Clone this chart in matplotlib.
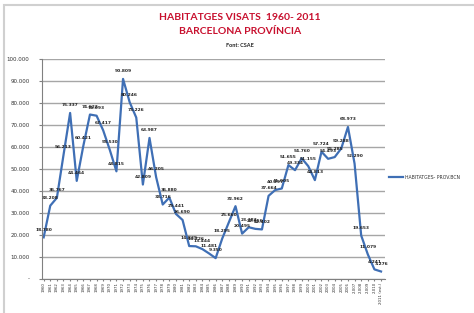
'''Habitatges visats Barcelona provincia 1960-2011'''
import matplotlib
matplotlib.use("Agg")
import matplotlib.pyplot as plt
from matplotlib import font_manager
from matplotlib.patches import Rectangle
from matplotlib.ticker import FuncFormatter

# Years and visats (houses approved) per year
years = list(range(1960, 2012))
tick_labels = [str(y) for y in range(1960, 2007)] + ["2.007", "2.008", "2.009", "2.010", "2011 (est.)"]
visats = [18780, 33208, 36767, 56213, 75337, 44464, 60421, 74622, 74093, 67417,
          58530, 48815, 90809, 80246, 73226, 42809, 63987, 46205, 33716, 36880,
          29441, 26690, 14839, 14726, 13444, 11481, 9350, 18295, 25660, 32962,
          20495, 23383, 22656, 22402, 37664, 40297, 41005, 51655, 49334, 54760,
          51155, 44813, 57724, 54493, 55285, 59288, 68973, 52290, 19653, 11079,
          4241, 3276]

TITLE_RED = "#C8102E"
LINE_BLUE = "#3F6FB5"

# narrow font for the legend if we have one
names = {f.name for f in font_manager.fontManager.ttflist}
if "Liberation Sans Narrow" in names:
    legend_font = {"family": "Liberation Sans Narrow", "size": 4.2}
else:
    legend_font = {"family": "DejaVu Sans", "size": 3.3}


def thousands(v, pos=None):
    if v == 0:
        return "-"
    return f"{int(v):,}".replace(",", ".")


fig = plt.figure(figsize=(4.74, 3.13), dpi=100)

# Outer chart frame
fig.patches.append(Rectangle((4 / 474, -0.1), 1.2, 1 - 5 / 313 + 0.1, transform=fig.transFigure,
                             fill=False, edgecolor="#D0D0D0", linewidth=1.5))

ax = fig.add_axes([42 / 474, 34.3 / 313, 343 / 474, 220 / 313])
x = list(range(len(years)))
ax.plot(x, visats, color=LINE_BLUE, linewidth=1.6, label="HABITATGES- PROV.BCN")

# Data labels above every point
for xi, v in zip(x, visats):
    ax.annotate(f"{v:,}".replace(",", "."), (xi, v), xytext=(0, 5.5), textcoords="offset points",
                ha="center", va="center", fontsize=3.2, fontweight="bold", color="#222222")

ax.set_ylim(0, 100000)
ax.set_yticks(range(0, 100001, 10000))
ax.yaxis.set_major_formatter(FuncFormatter(thousands))
ax.set_xlim(-0.25, 51.6)
ax.set_xticks(x)
ax.set_xticklabels(tick_labels, rotation=90, fontsize=2.8)
ax.tick_params(axis="y", labelsize=4, length=2, color="#808080", pad=7, labelcolor="#333333")
ax.tick_params(axis="x", length=1.5, color="#808080", pad=1, labelcolor="#333333")
ax.grid(axis="y", color="#A6A6A6", linewidth=1.0)
ax.set_axisbelow(True)
for side in ["top", "right"]:
    ax.spines[side].set_visible(False)
ax.spines["left"].set_color("#808080")
ax.spines["bottom"].set_color("#808080")

ax.legend(loc="center left", bbox_to_anchor=(1.0, 0.46), frameon=False, prop=legend_font,
          handlelength=3.0, handletextpad=0.4, labelcolor="#333333")

fig.text(240 / 474, 1 - 18 / 313, "HABITATGES VISATS  1960- 2011", ha="center", va="center",
         color=TITLE_RED, fontsize=7.5, fontweight="bold", family="Lato")
fig.text(240 / 474, 1 - 32 / 313, "BARCELONA PROVÍNCIA", ha="center", va="center",
         color=TITLE_RED, fontsize=7.5, fontweight="bold", family="Lato")
fig.text(240 / 474, 1 - 45.5 / 313, "Font: CSAE", ha="center", va="center",
         color="#222222", fontsize=4, fontweight="bold", family="Lato")

fig.savefig("out.png", dpi=100)
